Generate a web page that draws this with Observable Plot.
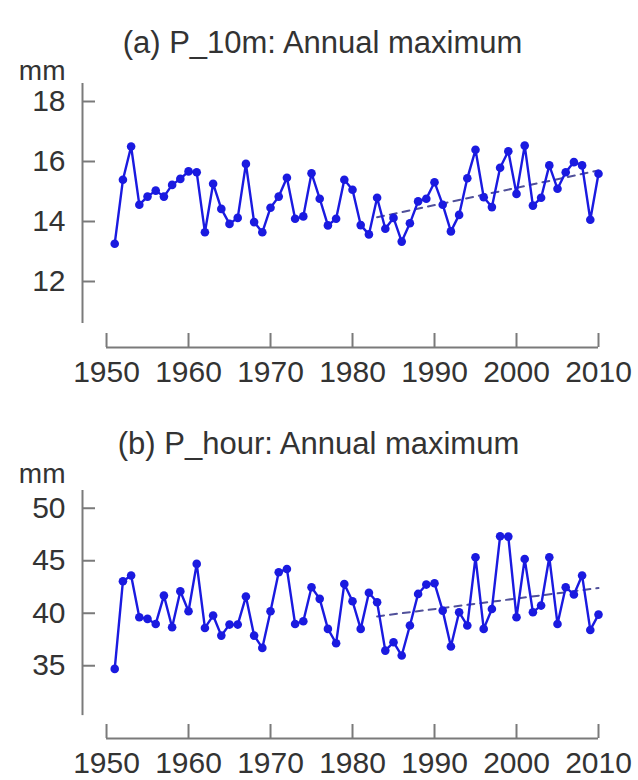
<!DOCTYPE html>
<html>
<head>
<meta charset="utf-8">
<script src="https://cdn.jsdelivr.net/npm/d3@7"></script>
<script src="https://cdn.jsdelivr.net/npm/@observablehq/plot@0.6"></script>
<style>
  body { margin: 0; background: #fff; }
  #wrap { position: relative; width: 638px; height: 780px; overflow: hidden; background: #fff; }
  #wrap svg { position: absolute; left: 0; }
</style>
</head>
<body>
<div id="wrap"></div>
<script>
// ---- data ----
const years = [1951,1952,1953,1954,1955,1956,1957,1958,1959,1960,
               1961,1962,1963,1964,1965,1966,1967,1968,1969,1970,
               1971,1972,1973,1974,1975,1976,1977,1978,1979,1980,
               1981,1982,1983,1984,1985,1986,1987,1988,1989,1990,
               1991,1992,1993,1994,1995,1996,1997,1998,1999,2000,
               2001,2002,2003,2004,2005,2006,2007,2008,2009,2010];

const p10m = [13.26,15.39,16.50,14.56,14.83,15.03,14.83,15.22,15.42,15.67,
              15.64,13.64,15.26,14.42,13.92,14.12,15.92,13.98,13.64,14.46,
              14.83,15.46,14.09,14.17,15.61,14.76,13.87,14.09,15.39,15.06,
              13.88,13.57,14.79,13.76,14.12,13.33,13.94,14.67,14.76,15.31,
              14.56,13.67,14.22,15.44,16.39,14.81,14.48,15.79,16.34,14.92,
              16.53,14.53,14.79,15.87,15.09,15.64,15.98,15.87,14.06,15.59];

const phour = [34.70,43.05,43.59,39.62,39.46,38.98,41.68,38.67,42.10,40.19,
               44.70,38.60,39.78,37.87,38.92,38.92,41.59,37.87,36.70,40.19,
               43.90,44.22,38.98,39.24,42.48,41.37,38.51,37.14,42.79,41.14,
               38.51,41.95,41.05,36.44,37.24,35.97,38.83,41.84,42.73,42.86,
               40.25,36.83,40.10,38.83,45.33,38.51,40.41,47.33,47.30,39.62,
               45.17,40.10,40.73,45.33,38.98,42.48,41.78,43.59,38.41,39.87];

const trendYears = [1983, 2010];
const trendA = [14.14, 15.70];
const trendB = [39.70, 42.40];

const xTicks = [1950,1960,1970,1980,1990,2000,2010];
const yTicksA = [12,14,16,18];
const yTicksB = [35,40,45,50];

const titleA = "(a) P_10m: Annual maximum";
const titleB = "(b) P_hour: Annual maximum";
const unitLabel = "mm";

// ---- drawing ----
const BLUE = "#1a1ae0";
const AXIS = "#7a7a7a";
const TEXT = "#333333";
const xDomain = [1947.07, 2010];

function panel(cfg) {
  const data = years.map((y, i) => ({year: y, v: cfg.values[i]}));
  const trend = trendYears.map((y, i) => ({year: y, v: cfg.trend[i]}));
  return Plot.plot({
    width: 638,
    height: cfg.height,
    marginTop: cfg.marginTop,
    marginBottom: cfg.marginBottom,
    marginLeft: 82,
    marginRight: 40,
    style: {fontFamily: "'Liberation Sans', Arial, Helvetica, sans-serif", fontSize: "30px", color: TEXT, background: "transparent", overflow: "visible"},
    x: {domain: xDomain, axis: null},
    y: {domain: cfg.yDomain, axis: null},
    marks: [
      // y axis line
      Plot.ruleX([xDomain[0]], {y1: cfg.yAxisBottom, y2: cfg.yDomain[1], stroke: AXIS, strokeWidth: 2}),
      // y ticks (inward) + labels
      Plot.axisY(cfg.yTicks, {anchor: "left", tickSize: -13, tickPadding: 30, stroke: AXIS, strokeWidth: 2, fill: TEXT, fontSize: 30, label: null}),
      // x axis line
      Plot.ruleY([cfg.yDomain[0]], {x1: xTicks[0], x2: xTicks[xTicks.length - 1], stroke: AXIS, strokeWidth: 2}),
      Plot.axisX(xTicks, {anchor: "bottom", tickSize: -14, tickPadding: 27, stroke: AXIS, strokeWidth: 2, fill: TEXT, fontSize: 30, tickFormat: d => String(d), label: null}),
      // title and unit
      Plot.text([cfg.title], {frameAnchor: "top-left", dx: cfg.titleX - 82, dy: cfg.titleDy, textAnchor: "middle", lineAnchor: "bottom", fontSize: 31, fill: TEXT}),
      Plot.text([unitLabel], {frameAnchor: "top-left", dx: 65 - 82, dy: cfg.unitDy, textAnchor: "end", lineAnchor: "bottom", fontSize: 28, fill: TEXT}),
      // trend
      Plot.line(trend, {x: "year", y: "v", stroke: "#50509a", strokeWidth: 2, strokeDasharray: "7,6"}),
      // series
      Plot.line(data, {x: "year", y: "v", stroke: BLUE, strokeWidth: 2.4}),
      Plot.dot(data, {x: "year", y: "v", r: 4.3, fill: BLUE, stroke: "none"})
    ]
  });
}

const wrap = document.getElementById("wrap");

const svgA = panel({
  values: p10m, trend: trendA, yTicks: yTicksA,
  yDomain: [9.8, 18.6], yAxisBottom: 10.6,
  height: 395, marginTop: 83, marginBottom: 48,
  title: titleA, titleX: 322, titleDy: -31, unitDy: -4
});
svgA.style.top = "0px";
wrap.appendChild(svgA);

const svgB = panel({
  values: phour, trend: trendB, yTicks: yTicksB,
  yDomain: [28.07, 51.69], yAxisBottom: 30.25,
  height: 360, marginTop: 70, marginBottom: 42,
  title: titleB, titleX: 318, titleDy: -37, unitDy: -8
});
svgB.style.top = "420px";
wrap.appendChild(svgB);
</script>
</body>
</html>
